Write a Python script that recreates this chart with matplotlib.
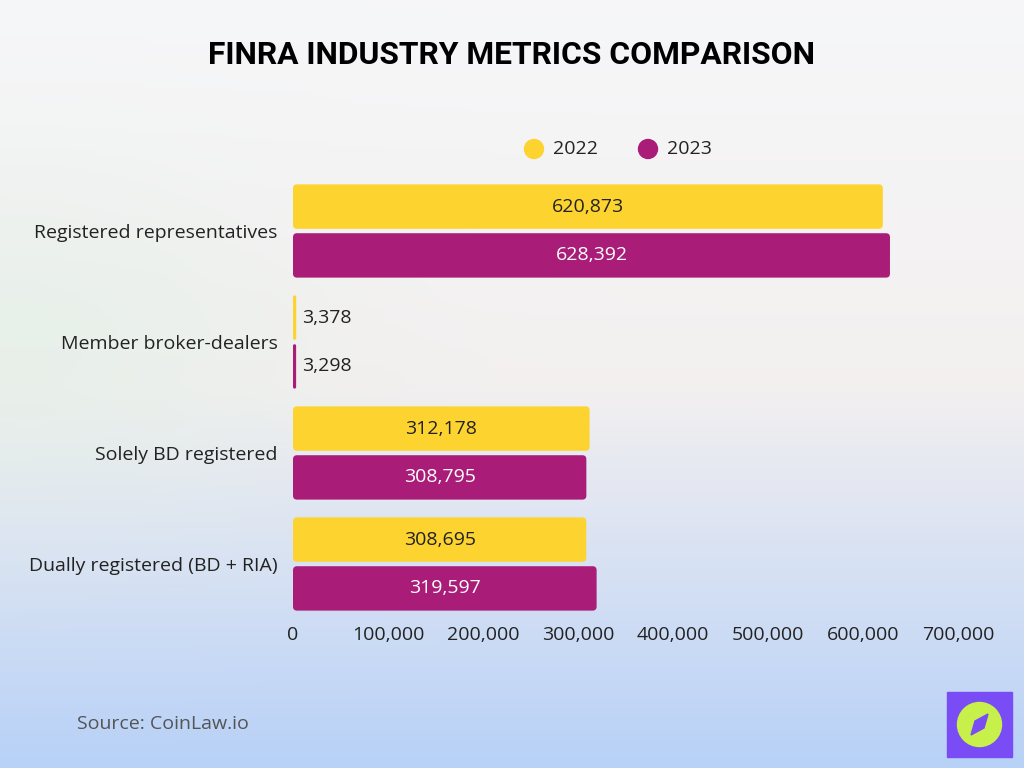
import numpy as np
import matplotlib.pyplot as plt
from matplotlib.patches import Rectangle, Ellipse, Polygon, FancyBboxPatch

# --- dati ---
categorie = ["Registered representatives", "Member broker-dealers",
             "Solely BD registered", "Dually registered (BD + RIA)"]
valori_2022 = [620873, 3378, 312178, 308695]
valori_2023 = [628392, 3298, 308795, 319597]
serie = ["2022", "2023"]
tick_x = [0, 100000, 200000, 300000, 400000, 500000, 600000, 700000]

GIALLO = "#FDD330"
VIOLA = "#A91D78"
FONT = "Open Sans"
FS = 14

fig = plt.figure(figsize=(10.24, 7.68), dpi=100)

# --- sfondo sfumato ---
bg = fig.add_axes([0, 0, 1, 1], zorder=-10)
h, w = 200, 200
yy, xx = np.mgrid[0:1:h * 1j, 0:1:w * 1j]
top = np.array([0.965, 0.968, 0.975])
mid = np.array([0.955, 0.94, 0.94])
bot = np.array([0.72, 0.82, 0.97])
t = yy[..., None]
img = np.where(t < 0.5, top + (mid - top) * (t / 0.5), mid + (bot - mid) * ((t - 0.5) / 0.5))
# leggera tinta verde a sinistra
green = np.array([0.88, 0.94, 0.90])
gw = np.exp(-((xx - 0.0) ** 2 / 0.08 + (yy - 0.45) ** 2 / 0.05))[..., None]
img = img * (1 - 0.6 * gw) + green * 0.6 * gw
bg.imshow(np.clip(img, 0, 1), aspect="auto", extent=[0, 1, 0, 1], origin="upper")
bg.set_xlim(0, 1)
bg.set_ylim(0, 1)
bg.axis("off")

# --- grafico ---
ax_w, ax_h = (958 - 293), 444
ax = fig.add_axes([293 / 1024, 148.5 / 768, ax_w / 1024, ax_h / 768])
ax.patch.set_alpha(0)
y = np.arange(len(categorie))
off = 0.22
hb = 0.40
barre1 = ax.barh(y - off, valori_2022, height=hb, color=GIALLO, zorder=2)
barre2 = ax.barh(y + off, valori_2023, height=hb, color=VIOLA, zorder=2)

ax.set_xlim(0, 700000)
ax.set_ylim(len(categorie) - 0.5, -0.5)

# angoli arrotondati: sostituisco i rettangoli con FancyBboxPatch
x_per_px = 700000 / ax_w
y_per_px = len(categorie) / ax_h
for b in list(barre1) + list(barre2):
    x0, y0, bw, bh = b.get_x(), b.get_y(), b.get_width(), b.get_height()
    r = min(4 * x_per_px, bw / 2)
    p = FancyBboxPatch((x0, y0), bw, bh, boxstyle=f"round,pad=0,rounding_size={r}",
                       mutation_aspect=y_per_px / x_per_px, color=b.get_facecolor(),
                       linewidth=0, zorder=2)
    ax.add_patch(p)
    b.set_visible(False)

for i in range(len(categorie)):
    for v, yp, col_in in [(valori_2022[i], y[i] - off, "#222222"),
                          (valori_2023[i], y[i] + off, "white")]:
        if v > 50000:
            ax.text(v / 2, yp, f"{v:,}", ha="center", va="center",
                    color=col_in, fontsize=FS, family=FONT)
        else:
            ax.text(v + 6000, yp, f"{v:,}", ha="left", va="center",
                    color="#222222", fontsize=FS, family=FONT)

ax.set_yticks(y)
ax.set_yticklabels(categorie, fontsize=FS, family=FONT, color="#222222")
ax.set_xticks(tick_x)
ax.set_xticklabels([f"{v:,}" for v in tick_x], fontsize=FS, family=FONT, color="#222222")
ax.tick_params(length=0, pad=5)
ax.tick_params(axis="y", pad=11)
for s in ax.spines.values():
    s.set_visible(False)

# --- legenda ---
for xl, lab, col in [(534, serie[0], GIALLO), (648, serie[1], VIOLA)]:
    fig.patches.append(Ellipse((xl / 1024, 1 - 149 / 768), 19 / 1024, 19 / 768, color=col,
                               transform=fig.transFigure, figure=fig))
    fig.text((xl + 19) / 1024, 1 - 149 / 768, lab, ha="left", va="center",
             fontsize=FS, family=FONT, color="#222222")

# --- titolo ---
titolo = fig.text(0.5, 1 - 55 / 768, "FINRA INDUSTRY METRICS COMPARISON", ha="center",
                  va="center", fontsize=24, fontweight="bold", family="Roboto", color="black")
rend = fig.canvas.get_renderer()
larg = titolo.get_window_extent(rend).width
titolo.set_fontsize(24 * 608 / larg)

# --- fonte ---
fig.text(77 / 1024, 1 - 724 / 768, "Source: CoinLaw.io", ha="left", va="center",
         fontsize=FS, family=FONT, color="#555555")

# --- logo ---
fig.patches.append(Rectangle((947 / 1024, 1 - 757 / 768), 65 / 1024, 65 / 768,
                             color="#7A4CF5", transform=fig.transFigure, figure=fig))
fig.patches.append(Ellipse((979.5 / 1024, 1 - 724.5 / 768), 44 / 1024, 44 / 768, color="#C8F04A",
                           transform=fig.transFigure, figure=fig))
fig.patches.append(Polygon([(971 / 1024, 1 - 735 / 768), (975 / 1024, 1 - 721 / 768),
                            (988 / 1024, 1 - 714 / 768), (984 / 1024, 1 - 728 / 768)],
                           closed=True, color="#7A4CF5", transform=fig.transFigure, figure=fig))

fig.savefig("out.png", dpi=100)
